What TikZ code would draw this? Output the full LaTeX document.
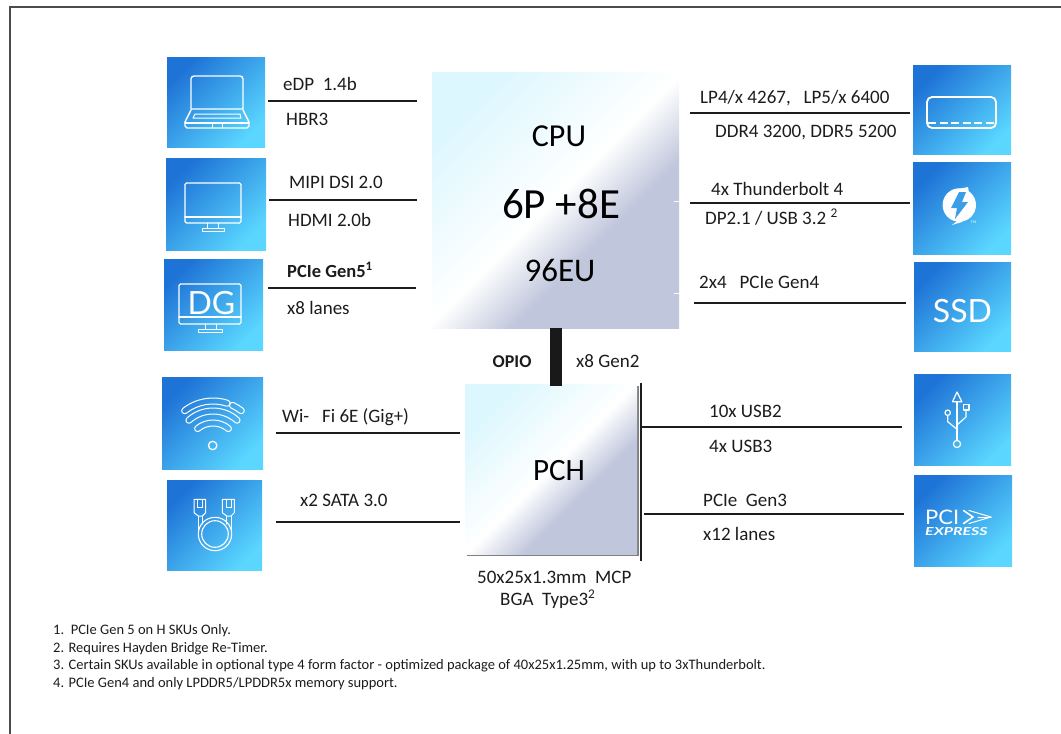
\documentclass[tikz,border=0pt]{standalone}
\usepackage{fontspec}
\setmainfont{Carlito}
\newfontfamily\glyphfont{Lato}
\usetikzlibrary{positioning, shadows}

\definecolor{icondark}{HTML}{1E73D6}
\definecolor{iconlight}{HTML}{5AD6FF}
\definecolor{iconmid}{HTML}{3C9DE8}
\definecolor{inktext}{HTML}{1C1C1C}
\definecolor{chipcyan}{HTML}{DDF7FE}
\definecolor{chipgrey}{HTML}{C0C6DC}
\pgfdeclarehorizontalshading{chipshade}{100bp}{color(0bp)=(chipcyan); color(25bp)=(chipcyan); color(50bp)=(white); color(62bp)=(chipgrey); color(100bp)=(chipgrey)}

\tikzset{
    iconbox/.style={draw=none, inner sep=0pt, left color=icondark, right color=iconlight, shading angle=45},
    chipbox/.style={draw=none, inner sep=0pt, shading=chipshade, shading angle=-45},
    wire/.style={draw=inktext, line width=2pt},
    glyph/.style={draw=white, line width=1.4pt, line join=round, line cap=round},
    thinglyph/.style={glyph, line width=1pt},
    lbl/.style={anchor=base west, inner sep=0pt, text=inktext, font=\fontsize{19}{21}\selectfont},
    boldlbl/.style={lbl, font=\bfseries\fontsize{18.5}{20}\selectfont},
    chiplbl/.style={anchor=base, inner sep=0pt, text=black, font=\fontsize{32}{34}\selectfont},
    note/.style={anchor=base west, inner sep=0pt, text=inktext, font=\fontsize{14.5}{16}\selectfont},
}

% one band of the wifi glyph: start angle, end angle, outer radius, inner radius
\newcommand{\wifiband}[4]{
    \draw[thinglyph] (213,447) ++(#1:#3) arc (#1:#2:#3) arc (#2:#2+180:{(#3-#4)/2}) arc (#2:#1:#4) arc (#1-180:#1:{(#3-#4)/2}) -- cycle;
}

\begin{document}
\begin{tikzpicture}[x=1pt, y=-1pt]
    \useasboundingbox (0,0) rectangle (1061,734);

    % frame
    \coordinate (frameA) at (10,734);
    \coordinate (frameB) at (10,7);
    \coordinate (frameC) at (1061,7);
    \draw[draw=black!70, line width=1.6pt] (frameA) -- (frameB) -- (frameC);

    % chips
    \node[chipbox, minimum width=247pt, minimum height=256pt] (cpu) at (555.5,200) {};
    \node[chipbox, minimum width=172pt, minimum height=170pt, drop shadow={shadow xshift=2pt, shadow yshift=-2pt, fill=black!50, opacity=1}] (pch) at (551,469) {};

    \node[chiplbl] (cpuname) at (559,146) {CPU};
    \node[chiplbl, font=\fontsize{43}{45}\selectfont] (cpucores) at (561,218) {6P +8E};
    \node[chiplbl, font=\fontsize{33}{35}\selectfont] (cpugfx) at (560,281) {96EU};
    \node[chiplbl, font=\fontsize{31}{33}\selectfont] (pchname) at (559,480) {PCH};

    % icon squares, left
    \node[iconbox, minimum width=98pt, minimum height=90pt] (laptop) at (216,102) {};
    \node[iconbox, minimum width=100pt, minimum height=92pt] (monitor) at (216,204) {};
    \node[iconbox, minimum width=99pt, minimum height=91pt] (dgfx) at (213.5,304.5) {};
    \node[iconbox, minimum width=101pt, minimum height=92pt] (wifi) at (212.5,423) {};
    \node[iconbox, minimum width=95pt, minimum height=90pt] (sata) at (214.5,525) {};

    % icon squares, right
    \node[iconbox, minimum width=98pt, minimum height=89pt] (memory) at (962,109.5) {};
    \node[iconbox, minimum width=98pt, minimum height=92pt] (thunder) at (962,208) {};
    \node[iconbox, minimum width=97pt, minimum height=89pt] (ssd) at (962.5,306.5) {};
    \node[iconbox, minimum width=97pt, minimum height=91pt] (usb) at (962.5,419.5) {};
    \node[iconbox, minimum width=98pt, minimum height=91pt] (pcie) at (963,520.5) {};

    % laptop glyph
    \draw[glyph] (191,79) arc (-180:-90:3) -- (240,76) arc (-90:0:3) -- (243,109) -- (191,109) -- cycle;
    \draw[glyph] (191,110) -- (185,122) -- (185,126) -- (187,128) -- (247,128) -- (249,126) -- (249,122) -- (243,110);
    \draw[glyph] (185,123) -- (249,123);
    \draw[thinglyph] (193,118) -- (195,114) -- (240,114) -- (241,118) -- cycle;
    \draw[thinglyph] (212,123) -- (212,128);
    \draw[thinglyph] (222,123) -- (222,128);

    % monitor glyph
    \draw[glyph, rounded corners=1.5pt] (185,183) rectangle (241,223);
    \draw[glyph] (185,217) -- (241,217);
    \draw[thinglyph] (207,223) -- (207,228) (218,223) -- (218,228);
    \draw[thinglyph] (202,228) rectangle (224,231);

    % dgfx glyph
    \draw[glyph, rounded corners=1.5pt] (179,284) rectangle (241,324);
    \draw[glyph] (179,317) -- (241,317);
    \draw[thinglyph] (205,324) -- (205,329) (216,324) -- (216,329);
    \draw[thinglyph] (198,329) rectangle (222,332);
    \node[anchor=base, inner sep=0pt, text=white, font=\glyphfont\fontsize{32}{34}\selectfont] (dgname) at (211.5,314) {DG};

    % wifi glyph
    \wifiband{-128}{-72}{49}{43}
    \wifiband{-65}{-52}{49}{43}
    \wifiband{-132}{-48}{39}{33}
    \wifiband{-130}{-50}{27}{21}
    \draw[glyph, line width=1.3pt] (212.7,445.5) circle (4.2);

    % sata glyph
    \draw[thinglyph] (194,499.3) -- (205.7,499.3) -- (205.7,512.7) -- (202.3,516) -- (198.3,516) -- (194,512.7) -- cycle;
    \draw[thinglyph] (222.3,499.3) -- (234.3,499.3) -- (234.3,512.7) -- (231,516) -- (226.7,516) -- (222.3,512.7) -- cycle;
    \draw[thinglyph] (197.3,499.3) -- (197.3,507) -- (202.3,507) -- (202.3,499.3);
    \draw[thinglyph] (226,499.3) -- (226,507) -- (231,507) -- (231,499.3);
    \draw[thinglyph] (198.3,516) -- (198.3,534) (202.3,516) -- (202.3,524) (226.7,516) -- (226.7,524) (231,516) -- (231,534);
    \draw[glyph, line width=1.1pt] (215,534) circle (16.7);
    \draw[glyph, line width=1.1pt] (215,534) circle (13.3);

    % memory glyph
    \draw[glyph, line width=1.8pt, rounded corners=5pt] (927,97) rectangle (996,128);
    \draw[glyph, line width=1.6pt, dash pattern=on 8pt off 3.5pt, line cap=butt] (928,123) -- (995,123);

    % thunderbolt glyph
    \fill[white] (959.3,205) circle (16.7);
    \fill[white] (958,189) -- (968,187) -- (970,198) -- cycle;
    \fill[white] (952,225) -- (970,211) -- (962,222) -- cycle;
    \fill[iconmid] (959,192) -- (966,192) -- (962,202) -- (968,202) -- (955,219) -- (957,208) -- (951,208) -- cycle;
    \node[inner sep=0pt, text=white, font=\fontsize{4}{4}\selectfont] (tmmark) at (973.5,222) {TM};

    % ssd glyph
    \node[anchor=base, inner sep=0pt, text=white, font=\glyphfont\fontsize{32}{34}\selectfont] (ssdname) at (962.5,322) {SSD};

    % usb glyph
    \draw[thinglyph, line width=1.2pt] (957,392) -- (952.5,401.7) -- (961.8,401.7) -- cycle;
    \draw[thinglyph, line width=1.2pt] (957,401.7) -- (957,440.5);
    \draw[thinglyph, line width=1.2pt] (957,444) circle (3.6);
    \draw[thinglyph, line width=1.2pt] (947.7,412.7) circle (2.7);
    \draw[thinglyph, line width=1.2pt] (947.7,415.4) -- (947.7,421.7) -- (957,429.3);
    \draw[thinglyph, line width=1.2pt] (963.3,404.3) rectangle (969,410);
    \draw[thinglyph, line width=1.2pt] (966,410) -- (966,417) -- (957,425);

    % pci express glyph
    \node[anchor=base west, inner sep=0pt, text=white, font=\glyphfont\fontsize{20}{22}\selectfont] (pciname) at (925,524) {\scalebox{1.1}[1]{PCI}};
    \node[anchor=base west, inner sep=0pt, text=white, font=\glyphfont\bfseries\itshape\fontsize{11}{12}\selectfont] (pciexpress) at (925,535.5) {\scalebox{1.45}[1]{EXPRESS}};
    \draw[glyph, line width=1.6pt] (963.5,510.5) -- (973,517) -- (963.5,523.5);
    \draw[thinglyph] (969,510.5) -- (991,517) -- (969,523.5);
    \draw[thinglyph] (978,517) -- (991,517);

    % bus ends
    \coordinate (edpL) at (268,101);
    \coordinate (edpR) at (417,101);
    \coordinate (dsiL) at (269,200);
    \coordinate (dsiR) at (417,200);
    \coordinate (genfiveL) at (268,288);
    \coordinate (genfiveR) at (416,288);
    \coordinate (memL) at (690,113);
    \coordinate (memR) at (910,113);
    \coordinate (tbtL) at (690,203);
    \coordinate (tbtR) at (910,203);
    \coordinate (genfourL) at (694,303);
    \coordinate (genfourR) at (906,303);
    \coordinate (wifiL) at (276,433);
    \coordinate (wifiR) at (460,433);
    \coordinate (sataL) at (276,522);
    \coordinate (sataR) at (460,522);
    \coordinate (usbL) at (642,427);
    \coordinate (usbR) at (902,427);
    \coordinate (genthreeL) at (644,514);
    \coordinate (genthreeR) at (904,514);
    \coordinate (railT) at (641,383);
    \coordinate (railB) at (641,561);
    \coordinate (tickA) at (674,201);
    \coordinate (tickB) at (679,201);
    \coordinate (tickC) at (674,293);
    \coordinate (tickD) at (679,293);

    \path [wire] (edpL) edge (edpR);
    \path [wire] (dsiL) edge (dsiR);
    \path [wire] (genfiveL) edge (genfiveR);
    \path [wire] (memL) edge (memR);
    \path [wire] (tbtL) edge (tbtR);
    \path [wire] (genfourL) edge (genfourR);
    \path [wire] (wifiL) edge (wifiR);
    \path [wire] (sataL) edge (sataR);
    \path [wire] (usbL) edge (usbR);
    \path [wire] (genthreeL) edge (genthreeR);
    \path [wire] (railT) edge (railB);
    \path [draw=white, line width=1pt] (tickA) edge (tickB);
    \path [draw=white, line width=1pt] (tickC) edge (tickD);

    % opio link
    \draw[draw=black!90, line width=12pt, shorten >=-2pt] (cpu.south) -- (cpu.south |- pch.north);

    % left labels
    \node[lbl] (edplbl) at (283,90) {eDP\ \ 1.4b};
    \node[lbl] (hbrlbl) at (286,125) {HBR3};
    \node[lbl] (dsilbl) at (289,188) {MIPI DSI 2.0};
    \node[lbl] (hdmilbl) at (288,226) {HDMI 2.0b};
    \node[boldlbl] (genfivelbl) at (287,277) {PCIe Gen5\textsuperscript{1}};
    \node[lbl] (eightlbl) at (287,314) {x8 lanes};
    \node[lbl] (wifilbl) at (282,422) {Wi-\ \ \ Fi 6E (Gig+)};
    \node[lbl] (satalbl) at (300,506) {x2 SATA 3.0};

    % right labels
    \node[lbl] (lplbl) at (700,103) {LP4/x 4267,\ \ \ LP5/x 6400};
    \node[lbl] (ddrlbl) at (715,137) {DDR4 3200, DDR5 5200};
    \node[lbl] (tbtlbl) at (711,195) {4x Thunderbolt 4};
    \node[lbl] (dplbl) at (705,224) {DP2.1 / USB 3.2 \textsuperscript{2}};
    \node[lbl] (genfourlbl) at (699,288) {2x4\ \ \ PCIe Gen4};
    \node[lbl] (usbtwolbl) at (709,417) {10x USB2};
    \node[lbl] (usbthreelbl) at (709,452) {4x USB3};
    \node[lbl] (genthreelbl) at (703,506) {PCIe\ \ Gen3};
    \node[lbl] (twelvelbl) at (703,540) {x12 lanes};

    % middle labels
    \node[boldlbl, font=\bfseries\fontsize{18}{20}\selectfont] (opiolbl) at (492.5,367) {OPIO};
    \node[lbl] (gentwolbl) at (576,367) {x8 Gen2};
    \node[lbl] (sizelbl) at (477,583) {50x25x1.3mm\ \ MCP};
    \node[lbl] (bgalbl) at (500,605) {BGA\ \ Type3\textsuperscript{2}};

    % footnotes
    \node[note] (noteone) at (53,634) {1.\ \ PCIe Gen 5 on H SKUs Only.};
    \node[note] (notetwo) at (53,652) {2. Requires Hayden Bridge Re-Timer.};
    \node[note] (notethree) at (53,669) {3. Certain SKUs available in optional type 4 form factor - optimized package of 40x25x1.25mm, with up to 3xThunderbolt.};
    \node[note] (notefour) at (53,687) {4. PCIe Gen4 and only LPDDR5/LPDDR5x memory support.};
\end{tikzpicture}
\end{document}
